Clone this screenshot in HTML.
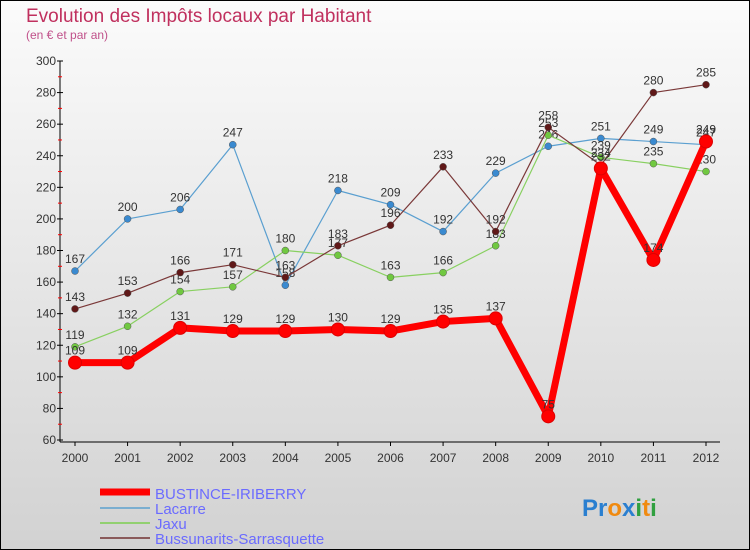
<!DOCTYPE html>
<html><head><meta charset="utf-8"><style>
body{margin:0;width:750px;height:550px;overflow:hidden}
svg{display:block;font-family:"Liberation Sans",sans-serif}
</style></head><body>
<svg id="c" width="750" height="550">
<defs><linearGradient id="bg" x1="0" y1="0" x2="0" y2="1"><stop offset="0" stop-color="#fbfbfb"/><stop offset="1" stop-color="#d2d2d2"/></linearGradient></defs>
<rect x="0.5" y="0.5" width="749" height="549" fill="url(#bg)" stroke="#000"/>
<text x="26" y="22" font-size="19" fill="#c0305e">Evolution des Impôts locaux par Habitant</text>
<text x="26" y="39" font-size="12" fill="#c0508a">(en € et par an)</text>
<g id="axes"></g><g id="series"></g>
<g>
<line x1="100" y1="492" x2="150" y2="492" stroke="#f00" stroke-width="7"/>
<text x="155" y="499" font-size="15" fill="#6b6bff">BUSTINCE-IRIBERRY</text>
<line x1="100" y1="508" x2="150" y2="508" stroke="#7aaed0" stroke-width="2"/>
<text x="155" y="514" font-size="15" fill="#6b6bff">Lacarre</text>
<line x1="100" y1="523" x2="150" y2="523" stroke="#92d070" stroke-width="2"/>
<text x="155" y="529" font-size="15" fill="#6b6bff">Jaxu</text>
<line x1="100" y1="538" x2="150" y2="538" stroke="#8a5a5a" stroke-width="2"/>
<text x="155" y="544" font-size="15" fill="#6b6bff">Bussunarits-Sarrasquette</text>
</g>
<g font-size="24" font-weight="bold">
<text x="582" y="516"><tspan fill="#2a7fd0">Pr</tspan><tspan fill="#f08a10">o</tspan><tspan fill="#2a7fd0">x</tspan><tspan fill="#30a040">i</tspan><tspan fill="#f08a10">t</tspan><tspan fill="#30a040">i</tspan></text>
</g>
</svg>
<script>
const years=["2000","2001","2002","2003","2004","2005","2006","2007","2008","2009","2010","2011","2012"];
const bustince=[109,109,131,129,129,130,129,135,137,75,232,174,249];
const lacarre=[167,200,206,247,158,218,209,192,229,246,251,249,247];
const jaxu=[119,132,154,157,180,177,163,166,183,253,239,235,230];
const bussunarits=[143,153,166,171,163,183,196,233,192,258,234,280,285];
const yTicks=[60,80,100,120,140,160,180,200,220,240,260,280,300];
const NS="http://www.w3.org/2000/svg";
const X=i=>75+i*(706-75)/12, Y=v=>440-(v-60)*(440-61)/240;
function mk(t,a,p){const e=document.createElementNS(NS,t);for(const k in a)e.setAttribute(k,a[k]);p.appendChild(e);return e;}
const ax=document.getElementById('axes');
mk('line',{x1:60,y1:61,x2:60,y2:442,stroke:'#000'},ax);
mk('line',{x1:60,y1:442,x2:720,y2:442,stroke:'#000'},ax);
yTicks.forEach(v=>{const y=Y(v);
 mk('line',{x1:57,y1:y,x2:63,y2:y,stroke:'#000'},ax);
 if(v<300)mk('line',{x1:58,y1:Y(v+10),x2:62,y2:Y(v+10),stroke:'#f00'},ax);
 const t=mk('text',{x:56,y:y+4,'font-size':12,'text-anchor':'end',fill:'#333'},ax);t.textContent=v;
 
 });
years.forEach((yr,i)=>{const x=X(i);
 mk('line',{x1:x,y1:442,x2:x,y2:446,stroke:'#000'},ax);
 const t=mk('text',{x:x,y:462,'font-size':12,'text-anchor':'middle',fill:'#333'},ax);t.textContent=yr;
 
 });
const sg=document.getElementById('series');
function draw(name,data,color,dot,w,r){
 const g=mk('g',{},sg);
 
 
 mk('polyline',{points:data.map((v,i)=>X(i)+','+Y(v)).join(' '),fill:'none',stroke:color,'stroke-width':w,'stroke-linejoin':'round'},g);
 data.forEach((v,i)=>{const c=mk('circle',{cx:X(i),cy:Y(v),r:r,fill:dot,stroke:w>3?'#d00':'#555','stroke-width':w>3?1:0.5},g);
  
  
  const t=mk('text',{x:X(i),y:Y(v)-8,'font-size':12,'text-anchor':'middle',fill:'#333'},g);t.textContent=v;
  
  });
}
draw('lacarre',lacarre,'#5a9fd0','#3a8ad0',1.2,3.5);
draw('jaxu',jaxu,'#88d060','#70c840',1.2,3.5);
draw('bussunarits',bussunarits,'#7a3838','#601818',1.2,3.5);
draw('bustince',bustince,'#f00','#f00',7,6.5);
</script>
</body></html>
